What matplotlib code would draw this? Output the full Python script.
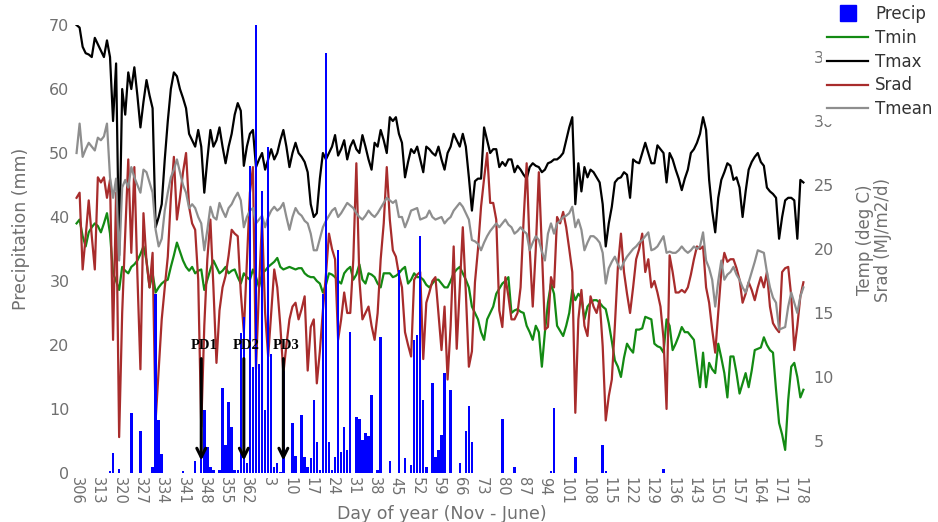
import matplotlib
matplotlib.use("Agg")
import matplotlib.pyplot as plt
from matplotlib.lines import Line2D

# day of year, Nov 1 (leap year) to end of June
doy = list(range(306, 367)) + list(range(1, 180))

# daily precipitation (mm)
precip = [
    0, 0, 0, 0, 0, 0, 0, 0, 0, 0,
    0, 0.3, 3.1, 0, 0.6, 0, 0, 0, 9.3, 0,
    0, 6.5, 0, 0, 0, 1.0, 28.0, 8.3, 3.0, 0,
    0, 0, 0, 0, 0, 0.3, 0, 0, 0, 1.8,
    0, 5.5, 9.8, 4.1, 1.0, 0.5, 0, 0.5, 13.2, 4.4,
    11.1, 7.2, 0.5, 0.5, 21.8, 24.4, 1.5, 48.0, 16.6, 70.0,
    17.0, 44.0, 9.8, 51.0, 18.6, 1.0, 1.5, 0.2, 16.0, 0,
    0, 7.8, 2.6, 0, 9.0, 2.5, 1.0, 2.3, 11.4, 4.9,
    0.5, 28.0, 65.6, 4.9, 0.5, 2.5, 34.8, 3.3, 7.2, 3.6,
    22.0, 0, 8.8, 8.5, 5.2, 6.2, 5.7, 12.2, 0, 0.5,
    21.3, 0, 0, 1.8, 0, 0, 31.7, 0, 2.3, 0,
    1.3, 20.8, 21.6, 37.0, 11.4, 1.0, 0, 14.0, 2.5, 3.6,
    5.9, 15.6, 0, 13.0, 0, 0, 1.5, 0, 6.5, 10.4,
    4.9, 0, 0, 0, 0, 0, 0, 0, 0, 0,
    8.5, 0, 0, 0, 1.0, 0, 0, 0, 0, 0,
    0, 0, 0, 0, 0, 0, 0.3, 10.1, 0, 0,
    0, 0, 0, 0, 2.5, 0, 0, 0, 0, 0,
    0, 0, 0, 4.4, 0.3, 0, 0, 0, 0, 0,
    0, 0, 0, 0, 0, 0, 0, 0, 0, 0,
    0, 0, 0, 0.6, 0, 0, 0, 0, 0, 0,
    0, 0, 0, 0, 0, 0, 0, 0, 0, 0,
    0, 0, 0, 0, 0, 0, 0, 0, 0, 0,
    0, 0, 0, 0, 0, 0, 0, 0, 0, 0,
    0, 0, 0, 0, 0, 0, 0, 0, 0, 0,
]

# daily max temperature (deg C)
tmax = [
    37.5, 37.3, 35.8, 35.3, 35.2, 35.0, 36.5, 36.0, 35.5, 35.0,
    36.3, 35.0, 30.0, 34.5, 19.5, 32.5, 30.5, 33.8, 32.5, 34.2,
    32.0, 29.5, 31.5, 33.2, 32.0, 31.0, 21.7, 22.5, 23.5, 27.0,
    30.0, 32.5, 33.8, 33.5, 32.5, 31.8, 31.0, 29.0, 28.5, 28.0,
    29.3, 28.0, 24.4, 27.0, 29.3, 28.0, 28.5, 29.5, 28.0, 26.7,
    28.0, 29.0, 30.5, 31.4, 30.8, 26.5, 28.0, 29.0, 29.3, 26.4,
    27.0, 27.5, 26.2, 27.0, 27.8, 27.0, 27.5, 28.5, 29.3, 28.0,
    26.4, 27.5, 28.3, 27.5, 27.2, 26.8, 26.0, 23.5, 22.5, 22.8,
    25.5, 27.5, 27.0, 27.5, 28.0, 28.9, 27.3, 27.8, 28.5, 27.0,
    28.0, 28.5, 27.8, 27.5, 28.9, 28.0, 27.0, 26.2, 28.3, 28.0,
    29.3, 28.5, 27.5, 30.3, 30.0, 30.3, 29.0, 28.3, 25.6, 26.8,
    27.8, 27.5, 28.0, 27.0, 26.0, 28.0, 27.8, 27.5, 27.3, 28.0,
    27.0, 26.2, 27.5, 28.0, 29.0, 28.5, 28.0, 29.0, 28.0, 25.6,
    23.0, 25.3, 25.5, 25.5, 29.5, 28.5, 27.5, 27.8, 27.8, 26.4,
    26.8, 26.5, 27.0, 27.0, 26.0, 26.5, 26.2, 25.8, 25.5, 26.4,
    26.7, 26.5, 26.4, 26.0, 26.2, 26.7, 26.8, 27.0, 27.0, 27.2,
    27.5, 28.5, 29.5, 30.3, 23.5, 26.7, 24.5, 26.4, 25.6, 26.2,
    26.0, 25.6, 25.2, 23.5, 20.2, 22.0, 23.3, 25.2, 25.5, 25.6,
    26.0, 25.8, 24.0, 27.0, 26.8, 26.7, 27.5, 28.3, 27.5, 26.7,
    26.7, 28.1, 27.8, 27.5, 25.2, 27.5, 27.0, 26.2, 25.5, 24.6,
    25.5, 26.2, 27.5, 27.8, 28.3, 29.0, 30.3, 29.3, 25.4, 23.0,
    21.3, 24.0, 25.4, 26.0, 26.7, 26.5, 25.4, 25.6, 24.8, 22.5,
    24.5, 26.2, 26.8, 27.2, 27.5, 26.8, 26.5, 24.8, 24.5, 24.3,
    24.0, 20.8, 22.5, 23.8, 24.0, 24.0, 23.8, 20.8, 25.4, 25.2,
]

# daily min temperature (deg C)
tmin = [
    22.0, 22.3, 21.0, 20.2, 21.3, 21.7, 22.0, 21.8, 21.3, 22.0,
    22.8, 21.2, 18.1, 17.5, 16.8, 18.6, 18.3, 18.1, 18.6, 18.8,
    19.1, 19.6, 20.2, 19.1, 17.0, 18.1, 16.6, 17.0, 17.3, 17.5,
    17.6, 18.6, 19.5, 20.5, 19.8, 19.1, 18.6, 18.3, 18.6, 18.1,
    18.3, 18.4, 16.8, 17.6, 18.4, 19.1, 18.6, 18.1, 18.3, 18.6,
    18.1, 18.3, 18.4, 17.8, 17.3, 18.1, 17.8, 17.6, 18.4, 17.8,
    17.0, 18.1, 18.3, 18.6, 18.8, 19.0, 19.3, 18.6, 18.4, 18.5,
    18.6, 18.5, 18.4, 18.5, 18.5, 18.1, 17.9, 17.8, 17.8, 17.5,
    17.3, 16.6, 17.2, 18.1, 18.0, 17.8, 17.5, 17.3, 18.1, 18.4,
    18.6, 17.6, 18.0, 18.8, 17.6, 17.3, 18.1, 18.0, 17.8, 17.3,
    17.0, 18.1, 18.1, 18.1, 17.8, 17.9, 18.1, 18.4, 18.6, 17.3,
    17.6, 18.1, 17.8, 17.8, 17.6, 17.2, 17.0, 17.3, 17.6, 17.6,
    17.3, 17.0, 17.0, 17.5, 18.1, 18.4, 18.6, 18.1, 17.6, 17.0,
    15.5, 15.0, 14.5, 13.5, 12.9, 14.5, 15.0, 15.5, 16.5, 16.9,
    17.3, 17.5, 17.8, 15.0, 15.2, 15.3, 15.1, 15.0, 14.0, 13.5,
    12.9, 14.0, 13.5, 10.8, 13.5, 15.8, 17.3, 16.5, 14.0, 13.6,
    13.2, 14.0, 15.0, 16.8, 16.0, 16.5, 16.2, 14.5, 15.5, 15.8,
    16.0, 16.0, 15.8, 15.5, 15.3, 14.2, 12.8, 11.3, 10.8, 10.0,
    11.5, 12.6, 12.2, 11.9, 13.7, 13.7, 13.8, 14.7, 14.6, 14.5,
    12.6, 12.4, 12.3, 11.9, 14.5, 14.0, 12.1, 12.6, 13.2, 13.9,
    13.5, 13.5, 13.2, 12.9, 11.0, 9.2, 11.9, 9.2, 11.1, 10.6,
    10.3, 12.6, 11.5, 10.3, 8.4, 11.6, 11.6, 10.3, 8.7, 9.5,
    10.3, 9.2, 10.5, 12.1, 12.2, 12.3, 13.1, 12.5, 12.1, 11.9,
    9.0, 6.4, 5.5, 4.3, 8.2, 10.8, 11.1, 10.0, 8.4, 9.0,
]

# daily solar radiation (MJ/m2/d)
srad = [
    24.0, 24.4, 18.4, 21.0, 23.8, 21.0, 18.4, 25.6, 25.2, 25.6,
    24.0, 25.4, 12.9, 24.4, 5.3, 15.0, 21.2, 27.0, 19.7, 26.4,
    18.0, 10.6, 22.8, 19.0, 17.0, 19.7, 6.6, 10.5, 14.5, 17.0,
    19.4, 24.0, 27.2, 22.3, 24.0, 26.0, 27.5, 23.3, 22.0, 21.5,
    17.6, 6.1, 14.0, 19.2, 22.3, 17.0, 11.1, 15.2, 17.0, 17.9,
    19.5, 21.5, 21.2, 21.0, 16.6, 13.5, 19.0, 24.4, 26.4, 10.6,
    17.0, 22.3, 15.0, 11.6, 15.0, 18.4, 17.0, 14.0, 10.3, 12.5,
    14.5, 15.5, 15.8, 14.5, 15.3, 16.3, 10.5, 13.9, 14.5, 9.5,
    12.0, 15.2, 18.0, 21.2, 20.0, 19.2, 12.9, 14.5, 16.6, 15.0,
    15.0, 19.2, 26.7, 17.6, 14.5, 15.0, 15.5, 14.0, 12.9, 15.0,
    19.2, 22.0, 26.4, 22.3, 19.9, 19.4, 18.0, 17.0, 13.5, 12.5,
    11.6, 17.6, 18.0, 18.2, 11.4, 15.8, 16.6, 17.5, 17.8, 15.0,
    12.1, 15.5, 9.8, 14.0, 20.2, 12.2, 17.0, 21.7, 16.6, 10.8,
    12.0, 17.4, 20.0, 23.3, 25.5, 27.5, 23.6, 23.6, 22.3, 15.2,
    13.9, 17.8, 16.3, 14.5, 14.5, 15.0, 17.0, 22.3, 26.7, 20.0,
    15.5, 20.0, 26.0, 20.0, 13.7, 13.9, 17.8, 17.0, 22.5, 22.0,
    22.9, 21.7, 20.0, 18.2, 7.2, 14.5, 16.8, 14.0, 13.2, 16.3,
    15.5, 15.0, 16.0, 12.4, 6.6, 8.5, 9.8, 14.0, 18.6, 21.2,
    18.2, 16.5, 15.0, 17.0, 19.2, 20.0, 21.2, 18.2, 19.2, 17.0,
    17.5, 16.6, 15.5, 13.0, 7.5, 19.5, 18.2, 16.6, 16.6, 16.8,
    16.6, 17.0, 18.0, 19.2, 20.2, 20.0, 20.2, 17.0, 15.8, 13.7,
    11.9, 15.0, 18.2, 19.7, 19.0, 19.2, 19.2, 18.5, 17.6, 15.8,
    16.5, 17.4, 16.8, 16.0, 17.0, 17.8, 17.0, 18.2, 15.5, 14.2,
    13.8, 13.5, 18.2, 18.5, 18.6, 16.3, 12.1, 14.0, 16.3, 17.4,
]

# daily mean temperature (deg C)
tmean = [
    27.5, 29.8, 27.2, 27.8, 28.3, 28.0, 27.7, 28.7, 28.5, 28.8,
    29.8, 25.6, 24.0, 25.5, 19.1, 24.8, 25.4, 24.8, 26.4, 25.6,
    25.0, 24.4, 26.2, 26.0, 25.2, 24.4, 21.5, 20.2, 20.8, 23.0,
    24.4, 25.6, 26.2, 27.0, 26.0, 25.0, 24.4, 23.2, 23.5, 23.2,
    22.5, 22.0, 19.9, 21.5, 23.3, 22.5, 22.3, 23.6, 23.0, 22.5,
    23.2, 23.5, 24.0, 24.4, 23.8, 21.7, 22.5, 23.0, 23.2, 22.0,
    22.3, 22.6, 21.7, 22.5, 23.0, 23.3, 23.0, 23.2, 23.6, 22.5,
    21.5, 22.5, 23.2, 22.8, 22.6, 22.2, 22.0, 21.2, 19.9, 19.9,
    20.8, 21.7, 22.2, 22.6, 23.0, 23.2, 22.5, 22.8, 23.2, 23.6,
    23.4, 23.2, 22.8, 22.5, 22.3, 22.6, 23.0, 22.7, 22.5, 22.8,
    23.2, 23.6, 24.0, 23.8, 23.6, 23.8, 22.5, 22.5, 21.7, 22.3,
    23.0, 23.1, 23.2, 22.3, 22.4, 22.5, 23.0, 22.5, 22.3, 22.4,
    22.5, 22.0, 22.3, 22.5, 23.0, 23.3, 23.6, 23.3, 22.8, 22.3,
    20.7, 20.6, 20.4, 19.9, 20.5, 21.0, 21.4, 21.7, 22.0, 21.7,
    22.0, 22.3, 21.9, 21.7, 21.2, 21.4, 21.7, 21.4, 21.2, 19.9,
    20.5, 21.0, 20.7, 19.8, 19.1, 21.2, 22.0, 21.2, 22.0, 22.2,
    22.5, 22.6, 22.8, 23.3, 21.7, 22.3, 21.5, 19.9, 20.5, 21.0,
    21.0, 20.8, 20.5, 19.7, 17.3, 18.5, 19.0, 19.4, 18.8, 18.4,
    19.0, 19.4, 19.7, 20.0, 20.2, 20.5, 20.7, 21.0, 21.3, 19.9,
    20.0, 20.2, 20.6, 21.0, 19.7, 19.8, 19.7, 19.7, 19.9, 20.2,
    19.9, 19.7, 19.9, 20.2, 20.0, 20.2, 21.3, 19.1, 18.5, 17.6,
    15.5, 17.5, 19.1, 17.6, 18.0, 18.2, 18.6, 18.0, 17.6, 17.0,
    16.6, 17.4, 18.2, 19.0, 19.9, 19.8, 19.7, 18.2, 17.0, 16.2,
    15.8, 13.7, 13.8, 13.9, 15.5, 16.6, 15.8, 15.0, 16.3, 17.0,
]

# planting dates
pd_labels = ["PD1", "PD2", "PD3"]
pd_days = [347, 361, 8]

tick_days = doy[::7]

grey = "#707070"
x = list(range(len(doy)))

fig = plt.figure(figsize=(9.38, 5.22), dpi=100)
ax = fig.add_axes([0.080, 0.094, 0.783, 0.858])
ax2 = ax.twinx()

ax.bar(x, precip, width=0.8, color="#0000ff", zorder=3)
ax2.plot(x, tmin, color="#138a13", lw=1.6)
ax2.plot(x, tmax, color="black", lw=1.6)
ax2.plot(x, srad, color="#a82c2c", lw=1.6)
ax2.plot(x, tmean, color="#8e8e8e", lw=1.6)

ax.set_zorder(ax2.get_zorder() + 1)
ax.patch.set_visible(False)

ax.set_xlim(-0.5, 241)
ax.set_ylim(0, 70)
ax2.set_ylim(2.5, 37.5)

ax.set_xticks([doy.index(d) for d in tick_days])
ax.set_xticklabels([str(d) for d in tick_days], rotation=270, fontsize=10.5, color=grey)
ax.set_yticks(range(0, 71, 10))
ax.tick_params(axis="y", labelsize=11.5, labelcolor=grey, length=0, pad=4)
ax.tick_params(axis="x", length=0, pad=3)
ax2.set_yticks(range(5, 36, 5))
ax2.tick_params(axis="y", labelsize=11.5, labelcolor=grey, length=0, pad=3)

for a in (ax, ax2):
    for s in a.spines.values():
        s.set_visible(False)

# planting date arrows
for lab, d in zip(pd_labels, pd_days):
    xi = doy.index(d)
    ax.annotate("", xy=(xi, 1.5), xytext=(xi, 18.3),
                arrowprops=dict(arrowstyle="->", color="black", lw=2.2,
                                mutation_scale=16), zorder=6)
    ax.text(xi + 0.8, 18.9, lab, ha="center", va="bottom", fontsize=10.5,
            family="Liberation Serif", fontweight="bold", zorder=6)

fig.text(0.022, 0.561, "Precipitation (mm)", rotation=90, ha="center", va="center",
         fontsize=12.5, color=grey)
fig.text(0.471, 0.016, "Day of year (Nov - June)", ha="center", va="center",
         fontsize=12.5, color=grey)
fig.text(0.932, 0.54, "Temp (deg C)\nSrad (MJ/m2/d)", rotation=90, ha="center",
         va="center", fontsize=12, color=grey, linespacing=1.0)

handles = [
    Line2D([], [], marker="s", ls="none", color="#0000ff", markersize=11),
    Line2D([], [], color="#138a13", lw=1.6),
    Line2D([], [], color="black", lw=1.6),
    Line2D([], [], color="#a82c2c", lw=1.6),
    Line2D([], [], color="#8e8e8e", lw=1.6),
]
leg = fig.legend(handles, ["Precip", "Tmin", "Tmax", "Srad", "Tmean"],
                 loc="upper left", bbox_to_anchor=(0.876, 1.0), frameon=True,
                 fontsize=12, labelspacing=0.35, handlelength=2.5,
                 handletextpad=0.4, borderpad=0.3, borderaxespad=0)
leg.get_frame().set_edgecolor("white")
leg.get_frame().set_facecolor("white")
leg.get_frame().set_alpha(1)
for t in leg.get_texts():
    t.set_color("#333333")

fig.savefig("out.png", dpi=100)
